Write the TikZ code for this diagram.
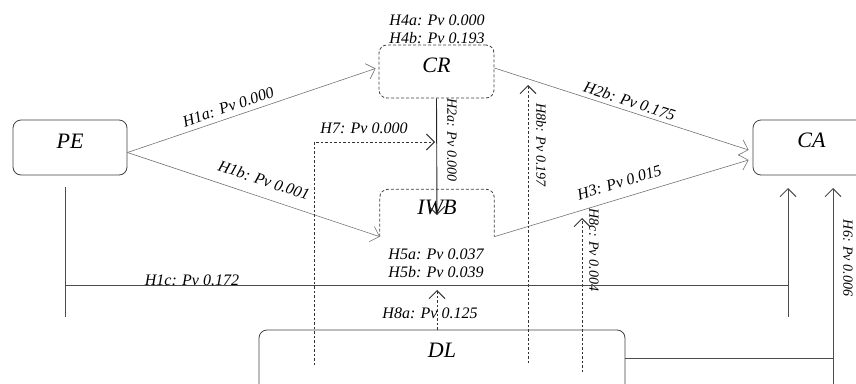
\documentclass[tikz,border=0pt]{standalone}
\usepackage{fontspec}
\setmainfont{Liberation Serif}
\usetikzlibrary{arrows.meta}
\begin{document}
\begin{tikzpicture}[x=1pt,y=-1pt,
  box/.style={draw=black!75, line width=0.8pt, rounded corners=8pt, inner sep=0pt,
    font=\fontsize{22}{24}\selectfont\itshape},
  dbox/.style={box, dash pattern=on 3pt off 2pt},
  lbl/.style={font=\fontsize{16}{18}\selectfont\itshape, inner sep=1pt, text=black},
  vlbl/.style={font=\fontsize{14}{16}\selectfont\itshape, rotate=-90, inner sep=1pt, text=black},
  tip/.style={-{Straight Barb[length=8pt,width=16pt]}},
  thinline/.style={draw=black!55, line width=0.6pt},
  solidline/.style={draw=black!70, line width=0.9pt},
  dotline/.style={draw=black!80, line width=0.9pt, dash pattern=on 2.5pt off 2pt}
]
\useasboundingbox (0,0) rectangle (856,383);
\clip (0,0) rectangle (856,383);

% nodes
\node[box, minimum width=114pt, minimum height=55pt, text depth=12pt] (PE) at (70,147.5) {PE};
\node[dbox, minimum width=115pt, minimum height=53pt, text depth=13pt] (CR) at (436.5,71.5) {CR};
\node[draw=none, inner sep=0pt, minimum width=114pt, minimum height=47pt, text depth=12pt,
      font=\fontsize{22}{24}\selectfont\itshape] (IWB) at (437,213) {IWB};
\draw[dbox] (IWB.south west) -- (IWB.north west) -- (IWB.north east) -- (IWB.south east);
\node[box, minimum width=117pt, minimum height=55pt, text depth=15pt] (CA) at (811.5,147.5) {CA};
\node[box, minimum width=366pt, minimum height=62pt, text depth=22pt] (DL) at (442,361) {DL};

% text labels around nodes
\node[lbl] (h4a) at (437,20) {H4a: Pv 0.000};
\node[lbl] (h4b) at (437,38) {H4b: Pv 0.193};
\node[lbl] (h5a) at (436,254) {H5a: Pv 0.037};
\node[lbl] (h5b) at (436,272) {H5b: Pv 0.039};

% H1a, H1b
\draw[thinline, tip] ([yshift=-5pt]PE.east) -- node[lbl, sloped, above=4pt, pos=0.42] {H1a: Pv 0.000} ([xshift=-3pt,yshift=3pt]CR.west);
\draw[thinline, tip] ([yshift=-5pt]PE.east) -- node[lbl, sloped, above=10pt, pos=0.52] {H1b: Pv 0.001} (IWB.south west);

% H2a
\coordinate (h2e) at (437,215);
\draw[solidline, draw=black!85, tip] (CR.south) -- (h2e);
\node[vlbl] (l2a) at (452,140) {H2a: Pv 0.000};

% H2b, H3
\draw[thinline, tip] ([yshift=3.5pt]CR.east) -- node[lbl, sloped, above=3pt, pos=0.52] {H2b: Pv 0.175} ([xshift=-4pt,yshift=-2.5pt]CA.west);
\draw[thinline, tip] (IWB.south east) -- node[lbl, sloped, above=9pt, pos=0.51] {H3: Pv 0.015} ([xshift=-4pt,yshift=-12.5pt]CA.west);

% H7
\coordinate (h7s) at (314,365);
\coordinate (h7e) at (435,142);
\draw[dotline, tip] (h7s) |- (h7e);
\node[lbl] (l7) at (364,128) {H7: Pv 0.000};

% H8b
\coordinate (h8bs) at (528,363);
\coordinate (h8be) at (528,85);
\draw[dotline, tip] (h8bs) -- (h8be);
\node[vlbl] (l8b) at (541,145) {H8b: Pv 0.197};

% H8c
\coordinate (h8cs) at (582,372);
\coordinate (h8ce) at (582,218);
\draw[dotline, tip] (h8cs) -- (h8ce);
\node[vlbl] (l8c) at (594,250) {H8c: Pv 0.004};

% H8a
\coordinate (h8ae) at (437,290);
\draw[dotline, tip] (DL.north -| h8ae) -- (h8ae);
\node[lbl] (l8a) at (430,313) {H8a: Pv 0.125};

% H1c
\coordinate (c1) at (65,187);
\coordinate (c2) at (65,317);
\coordinate (c3) at (65,285);
\coordinate (c4) at (788,285);
\coordinate (c5) at (788,317);
\coordinate (c6) at (788,188);
\draw[solidline] (c1) -- (c2);
\draw[solidline] (c3) -- (c4);
\draw[solidline, tip] (c5) -- (c6);
\node[lbl, anchor=south] (l1c) at (192,287) {H1c: Pv 0.172};

% H6
\coordinate (d1) at (833,358);
\coordinate (d2) at (833,395);
\coordinate (d3) at (833,188);
\draw[solidline] ([yshift=3pt]DL.east) -- (d1);
\draw[solidline, tip] (d2) -- (d3);
\node[vlbl] (l6) at (848,258) {H6: Pv 0.006};
\end{tikzpicture}
\end{document}
